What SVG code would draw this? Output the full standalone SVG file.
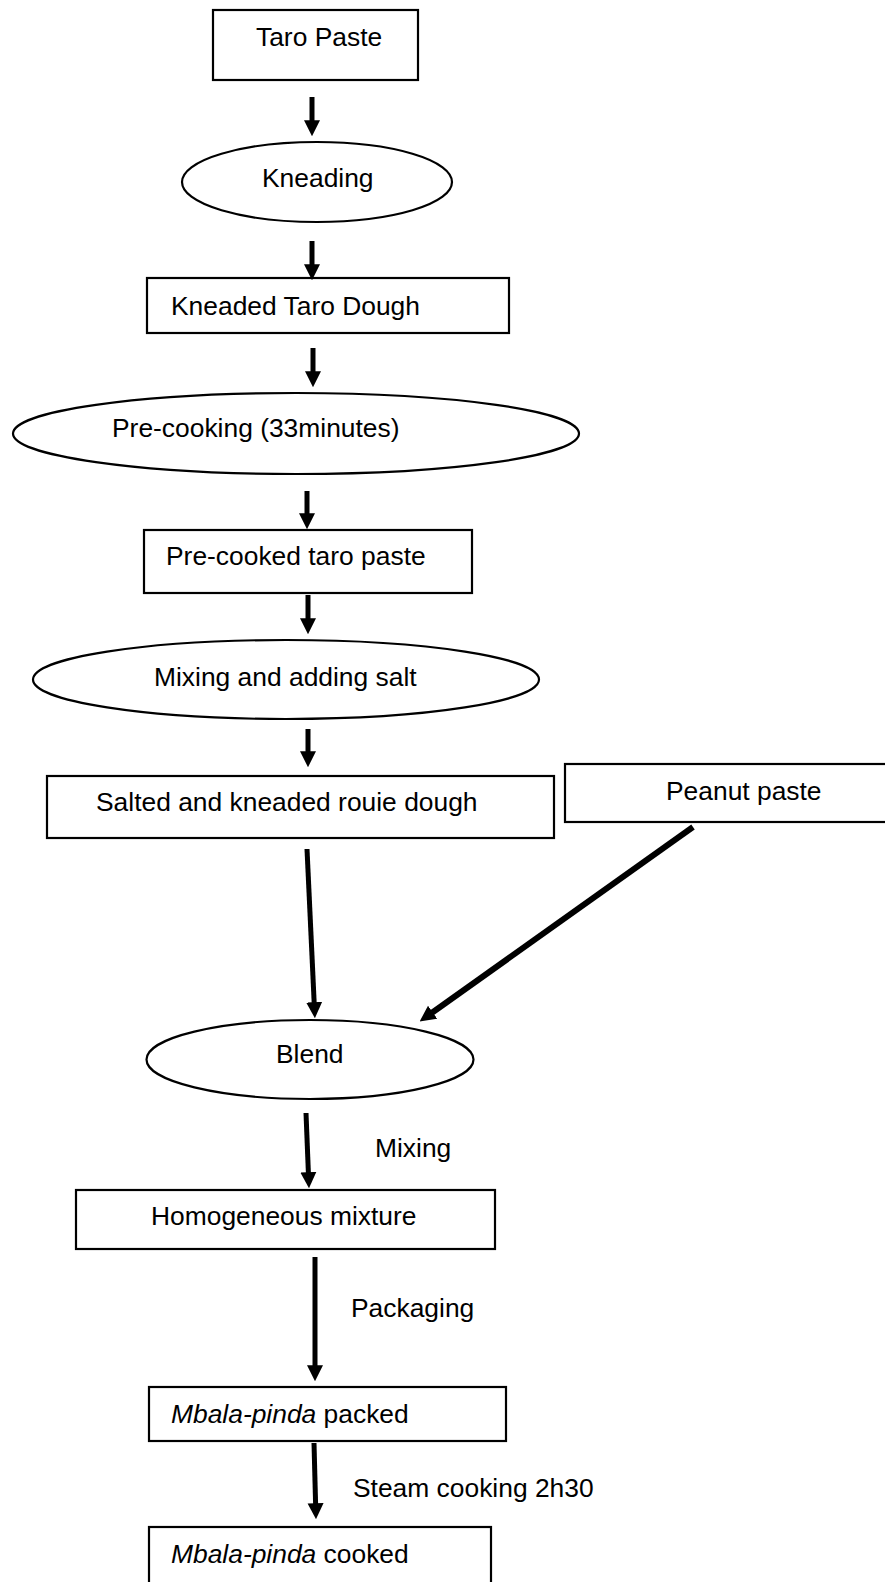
<svg xmlns="http://www.w3.org/2000/svg" width="885" height="1582" viewBox="0 0 885 1582">
<defs>
<marker id="ah" viewBox="0 0 10 10" refX="0.5" refY="5" markerWidth="16" markerHeight="17" markerUnits="userSpaceOnUse" orient="auto">
<path d="M0,0 L10,5 L0,10 Z" fill="#000"/>
</marker>
<style>
.n{fill:#fff;stroke:#000;stroke-width:2.2}
.t{font-family:"Liberation Sans",Arial,sans-serif;font-size:26.4px;fill:#000}
.c line{stroke:#000;stroke-width:5;marker-end:url(#ah)}
</style>
</defs>
<rect width="885" height="1582" fill="#fff"/>
<g id="taro-paste"><rect class="n" x="213" y="10" width="205" height="70"/><text class="t" x="256" y="46">Taro Paste</text></g>
<g id="kneading"><ellipse class="n" cx="317" cy="182" rx="135" ry="40"/><text class="t" x="262" y="187">Kneading</text></g>
<g id="kneaded-dough"><rect class="n" x="147" y="278" width="362" height="55"/><text class="t" x="171" y="315">Kneaded Taro Dough</text></g>
<g id="pre-cooking"><ellipse class="n" cx="296" cy="433.5" rx="283" ry="40.5"/><text class="t" x="112" y="437">Pre-cooking (33minutes)</text></g>
<g id="pre-cooked"><rect class="n" x="144" y="530" width="328" height="63"/><text class="t" x="166" y="565">Pre-cooked taro paste</text></g>
<g id="mixing-salt"><ellipse class="n" cx="286" cy="679.5" rx="253" ry="39.5"/><text class="t" x="154" y="686">Mixing and adding salt</text></g>
<g id="salted-dough"><rect class="n" x="47" y="776" width="507" height="62"/><text class="t" x="96" y="811">Salted and kneaded rouie dough</text></g>
<g id="peanut-paste"><rect class="n" x="565" y="764" width="340" height="58"/><text class="t" x="666" y="800">Peanut paste</text></g>
<g id="blend"><ellipse class="n" cx="310" cy="1059.5" rx="163.5" ry="39.5"/><text class="t" x="276" y="1063">Blend</text></g>
<g id="homogeneous"><rect class="n" x="76" y="1190" width="419" height="59"/><text class="t" x="151" y="1225">Homogeneous mixture</text></g>
<g id="packed"><rect class="n" x="149" y="1387" width="357" height="54"/><text class="t" x="171" y="1423"><tspan font-style="italic">Mbala-pinda</tspan> packed</text></g>
<g id="cooked"><rect class="n" x="149" y="1527" width="342" height="70"/><text class="t" x="171" y="1563"><tspan font-style="italic">Mbala-pinda</tspan> cooked</text></g>
<g id="connectors" class="c">
<line x1="312" y1="97" x2="312" y2="121"/>
<line x1="312" y1="241" x2="312" y2="265"/>
<line x1="313" y1="348" x2="313" y2="372"/>
<line x1="307" y1="491" x2="307" y2="514"/>
<line x1="308" y1="595" x2="308" y2="619"/>
<line x1="308" y1="729" x2="308" y2="752"/>
<line x1="307" y1="849" x2="314.2" y2="1003"/>
<line x1="693" y1="827" x2="432" y2="1012.7" style="stroke-width:6"/>
<line x1="306" y1="1113" x2="308.4" y2="1173"/>
<line x1="315" y1="1257" x2="315" y2="1366"/>
<line x1="314" y1="1443" x2="315.6" y2="1504"/>
</g>
<g id="edge-labels">
<text class="t" x="375" y="1157">Mixing</text>
<text class="t" x="351" y="1317">Packaging</text>
<text class="t" x="353" y="1497">Steam cooking 2h30</text>
</g>
</svg>
